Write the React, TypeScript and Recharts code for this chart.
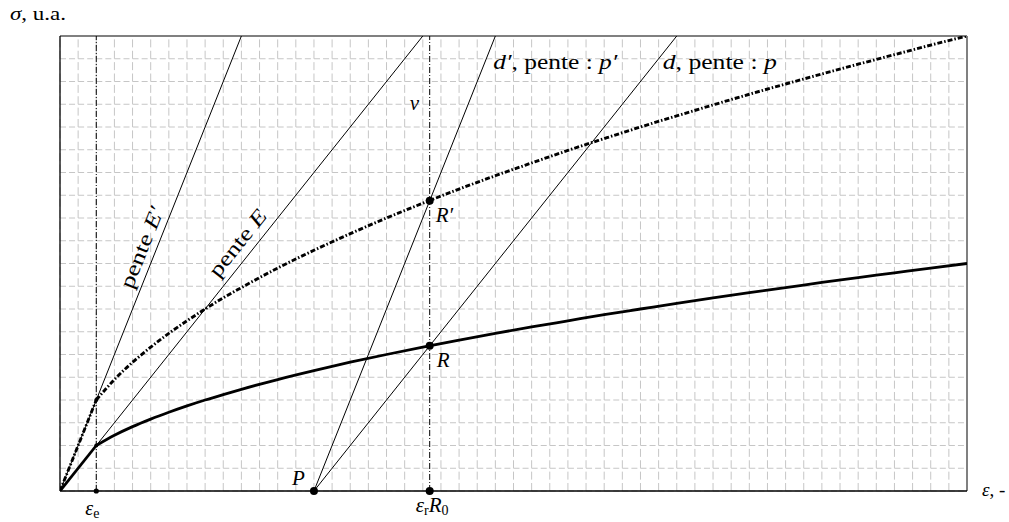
import React from "react";
import {
  LineChart,
  Line,
  XAxis,
  YAxis,
  CartesianGrid,
  ReferenceLine,
  ReferenceDot,
} from "recharts";

// ---- data ----
const strainTicks = Array.from({ length: 51 }, (_, i) => i);
const stressTicks = Array.from({ length: 21 }, (_, i) => i);
const strainDomain = [0, 50];
const stressDomain = [0, 20];

// elastic parts
const elasticStrain = [0, 2];
const elasticStress = [0, 2];
const elasticStressPrime = [0, 4];

// hardening curves (plastic part)
const plasticStrain = [2, 3, 4, 5, 6, 7, 8, 9, 10, 12, 14, 16, 18, 20, 22, 24, 26, 28, 30, 32, 34, 36, 38, 40, 42, 44, 46, 48, 50];
const plasticStress = [2, 2.45, 2.83, 3.16, 3.46, 3.74, 4.0, 4.24, 4.47, 4.9, 5.29, 5.66, 6.0, 6.32, 6.63, 6.93, 7.21, 7.48, 7.75, 8.0, 8.25, 8.49, 8.72, 8.94, 9.17, 9.38, 9.59, 9.8, 10];
const plasticStressPrime = [4, 4.9, 5.66, 6.32, 6.93, 7.48, 8.0, 8.49, 8.94, 9.8, 10.58, 11.31, 12.0, 12.65, 13.27, 13.86, 14.42, 14.97, 15.49, 16.0, 16.49, 16.97, 17.44, 17.89, 18.33, 18.76, 19.18, 19.6, 20];

// straight lines: [x0, y0, x1, y1]
const slopeEPrime = [0, 0, 10, 20];
const slopeE = [0, 0, 20, 20];
const lineD = [14, 0, 34, 20];
const lineDPrime = [14, 0, 24, 20];

// special points
const epsE = 2;
const epsR = 20.38;
const pointP = [14, 0];
const pointR = [20.38, 6.38];
const pointRPrime = [20.38, 12.76];

const toPts = (xs: number[], ys: number[]) => xs.map((x, i) => ({ x, y: ys[i] }));
const seg = (s: number[]) => [
  { x: s[0], y: s[1] },
  { x: s[2], y: s[3] },
];

const FONT = "'Liberation Serif', 'DejaVu Serif', serif";

const mk =
  (dx: number, dy: number, node: React.ReactNode, extra: any = {}) =>
  (p: any) =>
    (
      <text
        x={p.cx + dx}
        y={p.cy + dy}
        fontFamily={FONT}
        fontSize={20}
        fill="#000"
        {...extra}
      >
        {node}
      </text>
    );

const mkRot =
  (angle: number, node: React.ReactNode, extra: any = {}) =>
  (p: any) =>
    (
      <text
        x={p.cx}
        y={p.cy}
        fontFamily={FONT}
        fontSize={21}
        fill="#000"
        textAnchor="middle"
        dominantBaseline="central"
        transform={`rotate(${angle}, ${p.cx}, ${p.cy})`}
        {...extra}
      >
        {node}
      </text>
    );

const thin = { stroke: "#000", strokeWidth: 1, dot: false, isAnimationActive: false, type: "linear" as const, legendType: "none" as const };

const vGen = ({ offset }: any) =>
  strainTicks.map(
    (t) => offset.left + (offset.width * (t - strainDomain[0])) / (strainDomain[1] - strainDomain[0])
  );
const hGen = ({ offset }: any) =>
  stressTicks.map(
    (t) => offset.top + offset.height * (1 - (t - stressDomain[0]) / (stressDomain[1] - stressDomain[0]))
  );

export default function App() {
  return (
    <div style={{ position: "absolute", left: 0, top: 0, width: 1009, height: 522, background: "#fff" }}>
      <LineChart width={1009} height={522} margin={{ top: 36, right: 42, bottom: 0, left: 0 }}>
        <CartesianGrid
          vertical={false}
          horizontalCoordinatesGenerator={hGen}
          stroke="#c6c6c6"
          strokeDasharray="6 3.07"
        />
        <CartesianGrid
          horizontal={false}
          verticalCoordinatesGenerator={vGen}
          stroke="#c6c6c6"
          strokeDasharray="0 3.375 8 0"
        />
        <XAxis
          type="number"
          dataKey="x"
          domain={strainDomain}
          ticks={strainTicks}
          interval={0}
          tick={false}
          tickLine={false}
          height={31}
          axisLine={{ stroke: "#000", strokeWidth: 1.3 }}
          allowDataOverflow
        />
        <YAxis
          type="number"
          dataKey="y"
          domain={stressDomain}
          ticks={stressTicks}
          interval={0}
          tick={false}
          tickLine={false}
          width={60}
          axisLine={{ stroke: "#000", strokeWidth: 1.3 }}
          allowDataOverflow
        />
        <ReferenceLine y={20} stroke="#808080" strokeWidth={2} />
        <ReferenceLine x={50} stroke="#808080" strokeWidth={2} />
        <ReferenceLine x={epsE} stroke="#000" strokeWidth={1} strokeDasharray="6 2 1 2" />
        <ReferenceLine x={epsR} stroke="#000" strokeWidth={1} strokeDasharray="6 2 1 2" />

        <Line data={seg(slopeEPrime)} dataKey="y" {...thin} />
        <Line data={seg(slopeE)} dataKey="y" {...thin} />
        <Line data={seg(lineD)} dataKey="y" {...thin} />
        <Line data={seg(lineDPrime)} dataKey="y" {...thin} />

        <Line data={toPts(elasticStrain, elasticStress)} dataKey="y" type="linear" stroke="#000" strokeWidth={2.8} dot={false} isAnimationActive={false} />
        <Line data={toPts(plasticStrain, plasticStress)} dataKey="y" type="monotone" stroke="#000" strokeWidth={2.8} dot={false} isAnimationActive={false} />
        <Line data={toPts(elasticStrain, elasticStressPrime)} dataKey="y" type="linear" stroke="#000" strokeWidth={2.9} strokeDasharray="5 2 1.5 2" dot={false} isAnimationActive={false} />
        <Line data={toPts(plasticStrain, plasticStressPrime)} dataKey="y" type="monotone" stroke="#000" strokeWidth={2.9} strokeDasharray="5 2 1.5 2" dot={false} isAnimationActive={false} />

        {/* dots */}
        <ReferenceDot x={epsE} y={0} r={2.6} fill="#000" stroke="none" ifOverflow="visible" />
        <ReferenceDot x={epsE} y={elasticStress[1]} r={2} fill="#000" stroke="none" ifOverflow="visible" />
        <ReferenceDot x={epsE} y={elasticStressPrime[1]} r={2} fill="#000" stroke="none" ifOverflow="visible" />
        <ReferenceDot x={pointP[0]} y={pointP[1]} r={4} fill="#000" stroke="none" ifOverflow="visible" />
        <ReferenceDot x={epsR} y={0} r={4} fill="#000" stroke="none" ifOverflow="visible" />
        <ReferenceDot x={pointR[0]} y={pointR[1]} r={4} fill="#000" stroke="none" ifOverflow="visible" />
        <ReferenceDot x={pointRPrime[0]} y={pointRPrime[1]} r={4} fill="#000" stroke="none" ifOverflow="visible" />

        {/* labels */}
        <ReferenceDot x={0} y={20} r={0} ifOverflow="visible"
          shape={mk(-50, -16, <><tspan fontStyle="italic">σ</tspan>, u.a.</>, { fontSize: 18, textLength: 56, lengthAdjust: "spacingAndGlyphs" })} />
        <ReferenceDot x={50} y={0} r={0} ifOverflow="visible"
          shape={mk(15, 5, <><tspan fontStyle="italic">ε</tspan>, -</>, { fontSize: 19 })} />
        <ReferenceDot x={epsE} y={0} r={0} ifOverflow="visible"
          shape={mk(-11, 24, <><tspan fontStyle="italic">ε</tspan><tspan fontSize={14} dy={3}>e</tspan></>, { fontSize: 20 })} />
        <ReferenceDot x={epsR} y={0} r={0} ifOverflow="visible"
          shape={mk(-14, 21, <><tspan fontStyle="italic">ε</tspan><tspan fontSize={14} dy={3}>r</tspan><tspan fontStyle="italic" dy={-3}>R</tspan><tspan fontSize={14} dy={3}>0</tspan></>, { fontSize: 21 })} />
        <ReferenceDot x={pointP[0]} y={pointP[1]} r={0} ifOverflow="visible"
          shape={mk(-22, -6, <tspan fontStyle="italic">P</tspan>, { fontSize: 21 })} />
        <ReferenceDot x={pointR[0]} y={pointR[1]} r={0} ifOverflow="visible"
          shape={mk(7, 21, <tspan fontStyle="italic">R</tspan>, { fontSize: 21 })} />
        <ReferenceDot x={pointRPrime[0]} y={pointRPrime[1]} r={0} ifOverflow="visible"
          shape={mk(6, 21, <tspan fontStyle="italic">R′</tspan>, { fontSize: 21 })} />
        <ReferenceDot x={epsR} y={17} r={0} ifOverflow="visible"
          shape={mk(-20, 6, <tspan fontStyle="italic">v</tspan>, { fontSize: 21 })} />
        <ReferenceDot x={lineDPrime[2]} y={lineDPrime[3]} r={0} ifOverflow="visible"
          shape={mk(-2, 33, <><tspan fontStyle="italic">d′</tspan>, pente : <tspan fontStyle="italic">p′</tspan></>, { fontSize: 21, textLength: 124, lengthAdjust: "spacingAndGlyphs" })} />
        <ReferenceDot x={lineD[2]} y={lineD[3]} r={0} ifOverflow="visible"
          shape={mk(-14, 33, <><tspan fontStyle="italic">d</tspan>, pente : <tspan fontStyle="italic">p</tspan></>, { fontSize: 21, textLength: 114, lengthAdjust: "spacingAndGlyphs" })} />
        <ReferenceDot x={4.5} y={10.7} r={0} ifOverflow="visible"
          shape={mkRot(-68.3, <>pente <tspan fontStyle="italic">E′</tspan></>, { textLength: 86, lengthAdjust: "spacingAndGlyphs" })} />
        <ReferenceDot x={9.8} y={10.9} r={0} ifOverflow="visible"
          shape={mkRot(-51.4, <>pente <tspan fontStyle="italic">E</tspan></>, { textLength: 80, lengthAdjust: "spacingAndGlyphs" })} />
      </LineChart>
    </div>
  );
}
